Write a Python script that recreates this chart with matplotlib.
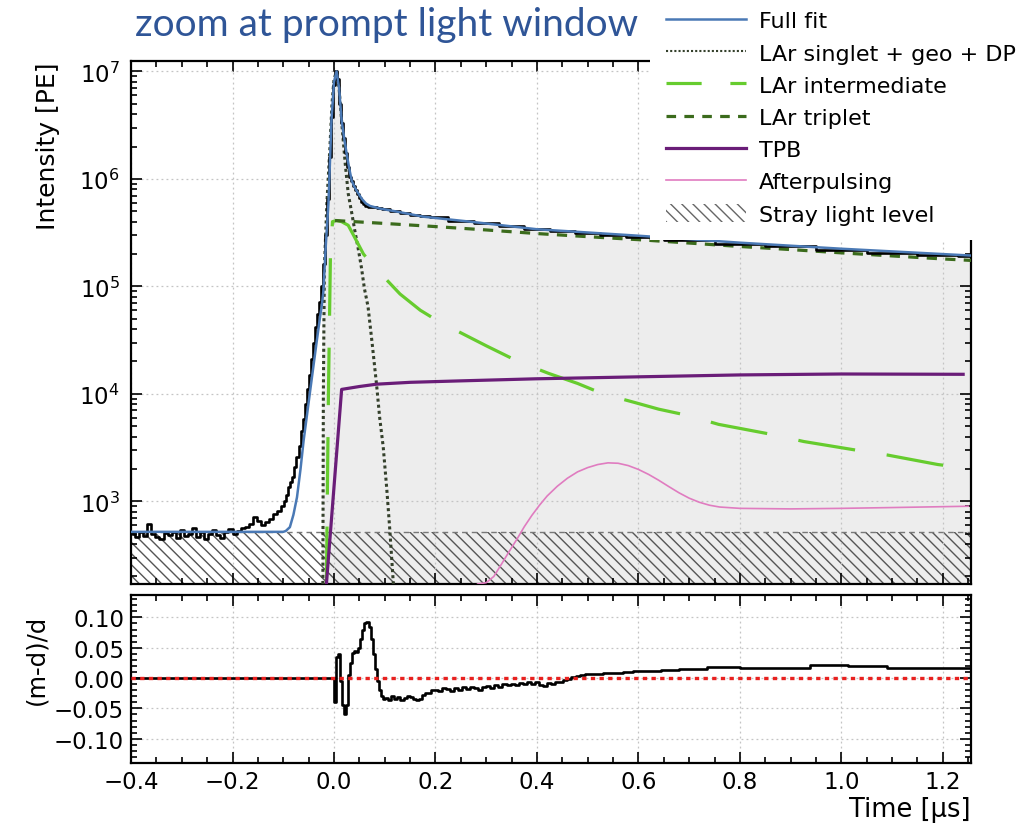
import numpy as np
import matplotlib
matplotlib.use("Agg")
import matplotlib.pyplot as plt
from matplotlib.ticker import MultipleLocator, LogLocator, FuncFormatter, NullFormatter
from matplotlib.patches import Patch
from matplotlib.lines import Line2D

plt.rcParams["font.family"] = ["DejaVu Sans"]
plt.rcParams["hatch.linewidth"] = 1.0
plt.rcParams["hatch.color"] = "#555555"

# Datos (tiempo en us, intensidad en PE)
data_t = np.concatenate([
    np.arange(-0.396, -0.099, 0.008),
    [-0.096, -0.092, -0.088, -0.084, -0.080, -0.076, -0.072, -0.068, -0.064, -0.060,
     -0.056, -0.052, -0.048, -0.044, -0.040, -0.036, -0.032, -0.028, -0.024, -0.020,
     -0.016, -0.012, -0.008, -0.004, 0.000, 0.004, 0.008, 0.012, 0.016, 0.020,
     0.024, 0.028, 0.032, 0.036, 0.040, 0.044, 0.048, 0.052, 0.056, 0.060,
     0.064, 0.070, 0.080, 0.090, 0.10, 0.12, 0.14, 0.16, 0.18, 0.20,
     0.25, 0.30, 0.35, 0.40, 0.45, 0.50, 0.55, 0.60, 0.70, 0.80,
     0.90, 1.00, 1.10, 1.20, 1.26]])
data_pe = [500, 470, 520, 480, 610, 500, 470, 450, 510, 490,
           520, 460, 540, 480, 500, 560, 470, 520, 450, 500,
           540, 490, 460, 520, 550, 500, 530, 560, 580, 620,
           720, 660, 600, 640, 680, 760, 820, 900,
           1000, 1150, 1350, 1500, 1700, 2100, 2600, 3300, 4500, 5800,
           8000, 1.1e4, 1.5e4, 2.1e4, 3.0e4, 4.2e4, 5.5e4, 7.2e4, 1.0e5, 1.6e5,
           3.0e5, 6.5e5, 1.6e6, 3.8e6, 7.5e6, 1.0e7, 8.5e6, 5.0e6, 3.3e6, 2.4e6,
           1.75e6, 1.3e6, 1.05e6, 9.5e5, 8.6e5, 7.9e5, 7.2e5, 6.6e5, 6.1e5, 5.8e5,
           5.6e5, 5.5e5, 5.45e5, 5.4e5, 5.25e5, 5.05e5, 4.85e5, 4.65e5, 4.55e5, 4.4e5,
           4.1e5, 3.85e5, 3.65e5, 3.45e5, 3.3e5, 3.15e5, 3.0e5, 2.9e5, 2.7e5, 2.5e5,
           2.35e5, 2.2e5, 2.05e5, 1.95e5, 1.9e5]

fit_t = [-0.4, -0.1, -0.095, -0.087, -0.08, -0.073, -0.066, -0.06, -0.053, -0.047,
         -0.04, -0.034, -0.028, -0.024, -0.021, -0.016, -0.011, -0.005, 0.0, 0.005,
         0.01, 0.015, 0.02, 0.025, 0.03, 0.035, 0.04, 0.045, 0.055, 0.063,
         0.071, 0.09, 0.12, 0.176, 0.268, 0.4, 0.6, 0.8, 1.0, 1.26]
fit_pe = [520, 520, 530, 575, 750, 1090, 2000, 3650, 6500, 1.07e4,
          1.9e4, 3.1e4, 5.0e4, 6.7e4, 9e4, 2.5e5, 5.9e5, 3.5e6, 8e6, 1.0e7,
          7e6, 3.5e6, 2.4e6, 1.7e6, 1.25e6, 9.6e5, 8.5e5, 7.7e5, 6.5e5, 5.9e5,
          5.6e5, 5.3e5, 5.0e5, 4.45e5, 4.0e5, 3.4e5, 2.96e5, 2.55e5, 2.24e5, 1.93e5]

singlet_t = [-0.022, -0.021, -0.019, -0.014, -0.008, -0.004, 0.0, 0.005, 0.01, 0.016,
             0.022, 0.028, 0.035, 0.041, 0.048, 0.054, 0.06, 0.067, 0.075, 0.084,
             0.09, 0.097, 0.104, 0.11, 0.117]
singlet_pe = [170, 1e4, 1.5e5, 6e5, 2e6, 5e6, 8.5e6, 1.0e7, 7e6, 3e6,
              1.4e6, 7.3e5, 4.8e5, 3.3e5, 2.2e5, 1.5e5, 9.5e4, 6.5e4, 3e4, 1.2e4,
              6e3, 3.2e3, 1.3e3, 540, 170]

inter_t = [-0.015, -0.011, -0.007, -0.003, 0.005, 0.015, 0.028, 0.04, 0.058, 0.08,
           0.1, 0.13, 0.17, 0.21, 0.245, 0.3, 0.363, 0.423, 0.48, 0.53, 0.593,
           0.64, 0.697, 0.758, 0.862, 0.926, 1.028, 1.09, 1.19, 1.26]
inter_pe = [170, 1e4, 2e5, 4.0e5, 4.1e5, 4.0e5, 3.7e5, 2.9e5, 2.0e5, 1.5e5,
            1.2e5, 8.5e4, 6e4, 4.6e4, 3.8e4, 2.8e4, 2.0e4, 1.55e4, 1.25e4, 1.0e4, 8.3e3,
            7.2e3, 6.3e3, 5.2e3, 4.2e3, 3.6e3, 3.0e3, 2.7e3, 2.2e3, 2.0e3]

triplet_t = [0.002, 0.1, 0.2, 0.3, 0.4, 0.5, 0.6, 0.7, 0.8, 0.9, 1.0, 1.1, 1.2, 1.26]
triplet_pe = [4.1e5, 3.85e5, 3.6e5, 3.35e5, 3.1e5, 2.9e5, 2.72e5, 2.53e5, 2.35e5,
              2.2e5, 2.05e5, 1.92e5, 1.8e5, 1.74e5]

tpb_t = [-0.015, 0.015, 0.05, 0.084, 0.15, 0.248, 0.397, 0.6, 0.8, 1.0, 1.24]
tpb_pe = [170, 1.1e4, 1.17e4, 1.23e4, 1.28e4, 1.32e4, 1.38e4, 1.44e4, 1.5e4, 1.53e4, 1.52e4]

ap_t = [0.283, 0.30, 0.315, 0.33, 0.345, 0.36, 0.375, 0.39, 0.405, 0.42,
        0.44, 0.46, 0.48, 0.50, 0.52, 0.54, 0.56, 0.58, 0.60, 0.62,
        0.64, 0.66, 0.68, 0.70, 0.72, 0.74, 0.76, 0.80, 0.90, 1.0,
        1.1, 1.25]
ap_pe = [170, 175, 200, 260, 340, 440, 580, 740, 920, 1120,
         1380, 1640, 1880, 2060, 2200, 2280, 2260, 2150, 1980, 1780,
         1570, 1370, 1200, 1070, 980, 920, 885, 860, 850, 860,
         875, 900]

stray_level = 520

# Residuos (m-d)/d
res_t = [-0.4, -0.002, 0.002, 0.006, 0.010, 0.014, 0.018, 0.022, 0.026, 0.030,
         0.034, 0.038, 0.042, 0.046, 0.050, 0.054, 0.058, 0.062, 0.066, 0.070,
         0.074, 0.078, 0.082, 0.086, 0.090, 0.094, 0.098, 0.104, 0.110, 0.116,
         0.122, 0.128, 0.134, 0.140, 0.146, 0.152, 0.158, 0.164, 0.170, 0.176,
         0.182, 0.188, 0.194, 0.200, 0.208, 0.216, 0.224, 0.232, 0.240, 0.248,
         0.256, 0.264, 0.272, 0.280, 0.288, 0.296, 0.304, 0.312, 0.320, 0.328,
         0.336, 0.344, 0.352, 0.360, 0.368, 0.376, 0.384, 0.392, 0.400, 0.408,
         0.416, 0.424, 0.432, 0.440, 0.448, 0.456, 0.464, 0.472, 0.480, 0.490,
         0.500, 0.52, 0.54, 0.56, 0.58, 0.60, 0.63, 0.66, 0.70, 0.77,
         0.83, 0.90, 0.975, 1.05, 1.13, 1.26]
res_val = [0.0, 0.0, -0.040, 0.035, 0.040, -0.005, -0.045, -0.060, -0.045, 0.005,
           0.025, 0.042, 0.045, 0.043, 0.050, 0.065, 0.080, 0.090, 0.092, 0.085,
           0.065, 0.040, 0.015, -0.005, -0.020, -0.030, -0.034, -0.033, -0.036, -0.030,
           -0.034, -0.032, -0.036, -0.033, -0.029, -0.032, -0.034, -0.036, -0.035, -0.028,
           -0.024, -0.025, -0.020, -0.019, -0.022, -0.017, -0.018, -0.021, -0.016, -0.019,
           -0.015, -0.018, -0.014, -0.016, -0.019, -0.014, -0.013, -0.016, -0.012, -0.014,
           -0.010, -0.012, -0.009, -0.011, -0.008, -0.010, -0.006, -0.009, -0.007, -0.011,
           -0.013, -0.008, -0.010, -0.006, -0.007, -0.003, -0.001, 0.002, 0.004, 0.005,
           0.006, 0.007, 0.008, 0.009, 0.010, 0.011, 0.012, 0.013, 0.015, 0.019,
           0.017, 0.016, 0.021, 0.020, 0.0165, 0.0165]

legend_labels = ["Full fit", "LAr singlet + geo + DP", "LAr intermediate",
                 "LAr triplet", "TPB", "Afterpulsing", "Stray light level"]

c_fit = "#4a79b5"
c_singlet = "#34402b"
c_inter = "#66cc2e"
c_triplet = "#3b6b1c"
c_tpb = "#6a1d78"
c_ap = "#e07cc0"

xlim = (-0.4, 1.255)
ylim = (170, 1.25e7)

fig = plt.figure(figsize=(10.24, 8.29), dpi=100)
ax1 = fig.add_axes([0.128, 0.2943, 0.820, 0.6309])
ax2 = fig.add_axes([0.128, 0.0784, 0.820, 0.2027])

# panel superior
fit_t_arr = np.array(fit_t)
fit_pe_arr = np.array(fit_pe)
mask = fit_t_arr >= -0.024
ax1.fill_between(fit_t_arr[mask], ylim[0] * 0.5, fit_pe_arr[mask], color="#ededed", lw=0, zorder=0.8)
ax1.fill_between(xlim, ylim[0] * 0.5, stray_level, facecolor="none", edgecolor="#555555",
                 hatch="\\\\\\", lw=0, zorder=1.1)
ax1.axhline(stray_level, color="#777777", lw=1.0, ls=(0, (4, 3)), zorder=1.2)

ax1.plot(singlet_t, singlet_pe, color=c_singlet, lw=2.2, ls=(0, (1, 1)), zorder=2.6)
ax1.plot(inter_t, inter_pe, color=c_inter, lw=2.3, ls=(0, (18, 10)), zorder=2.6)
ax1.plot(triplet_t, triplet_pe, color=c_triplet, lw=2.3, ls=(0, (3.2, 2.6)), zorder=2.6)
ax1.plot(tpb_t, tpb_pe, color=c_tpb, lw=2.3, zorder=2.6)
ax1.plot(ap_t, ap_pe, color=c_ap, lw=1.2, zorder=2.6)
ax1.plot(data_t, data_pe, drawstyle="steps-mid", color="k", lw=1.9, zorder=2.7)
ax1.plot(fit_t, fit_pe, color=c_fit, lw=1.8, zorder=2.8)

ax1.set_yscale("log")
ax1.set_xlim(xlim)
ax1.set_ylim(ylim)
ax1.yaxis.set_major_locator(LogLocator(base=10, numticks=10))
ax1.yaxis.set_minor_locator(LogLocator(base=10, subs=np.arange(2, 10), numticks=20))
ax1.yaxis.set_minor_formatter(NullFormatter())
ax1.xaxis.set_major_locator(MultipleLocator(0.2))
ax1.xaxis.set_minor_locator(MultipleLocator(0.05))
ax1.tick_params(axis="x", labelbottom=False)

# panel de residuos
ax2.plot(res_t, res_val, drawstyle="steps-mid", color="k", lw=1.9, zorder=2.5)
ax2.axhline(0, color="#e8211f", lw=2.4, ls=(0, (1.3, 1.3)), zorder=3)
ax2.set_xlim(xlim)
ax2.set_ylim(-0.14, 0.137)
ax2.xaxis.set_major_locator(MultipleLocator(0.2))
ax2.xaxis.set_minor_locator(MultipleLocator(0.05))
ax2.yaxis.set_major_locator(MultipleLocator(0.05))
ax2.yaxis.set_minor_locator(MultipleLocator(0.01))
ax2.xaxis.set_major_formatter(FuncFormatter(lambda v, p: f"{v:.1f}".replace("-", "\u2212")))
ax2.yaxis.set_major_formatter(FuncFormatter(lambda v, p: f"{v:.2f}".replace("-", "\u2212")))

for ax in (ax1, ax2):
    ax.set_axisbelow("line")
    ax.grid(True, which="major", color="#c4c4c4", lw=0.9, ls=(0, (1.5, 2.5)))
    ax.tick_params(which="both", direction="in", top=True, right=True, labelsize=16.5, width=1.2)
    ax.tick_params(which="major", length=8)
    ax.tick_params(which="minor", length=4)
    for s in ax.spines.values():
        s.set_linewidth(1.6)
ax1.tick_params(axis="y", pad=8)
ax2.tick_params(axis="y", pad=5)
ax2.tick_params(axis="x", pad=5)

# textos
fig.text(0.047, 0.925, "Intensity [PE]", rotation=90, ha="center", va="top", fontsize=18)
fig.text(0.036, 0.204, "(m-d)/d", rotation=90, ha="center", va="center", fontsize=17.5)
fig.text(0.948, 0.023, "Time [\u00b5s]", ha="right", va="center", fontsize=18.5)
fig.text(0.132, 0.970, "zoom at prompt light window", ha="left", va="center",
         fontsize=28, color="#2f5597", family="Lato")

# leyenda
handles = [
    Line2D([], [], color=c_fit, lw=1.8),
    Line2D([], [], color=c_singlet, lw=1.5, ls=(0, (1, 1))),
    Line2D([], [], color=c_inter, lw=2.3, ls=(0, (11, 9))),
    Line2D([], [], color=c_triplet, lw=2.3, ls=(0, (3, 2.6))),
    Line2D([], [], color=c_tpb, lw=2.3),
    Line2D([], [], color=c_ap, lw=1.2),
    Patch(facecolor="white", edgecolor="#666666", hatch="\\\\\\", lw=0),
]
leg = fig.legend(handles, legend_labels, loc="upper left", bbox_to_anchor=(0.635, 1.005),
                 fontsize=16, handlelength=3.6, handletextpad=0.6, labelspacing=0.51,
                 handleheight=0.9, borderpad=0.7, borderaxespad=0, frameon=True,
                 fancybox=False, framealpha=1, facecolor="white", edgecolor="none")

fig.savefig("out.png", dpi=100)
